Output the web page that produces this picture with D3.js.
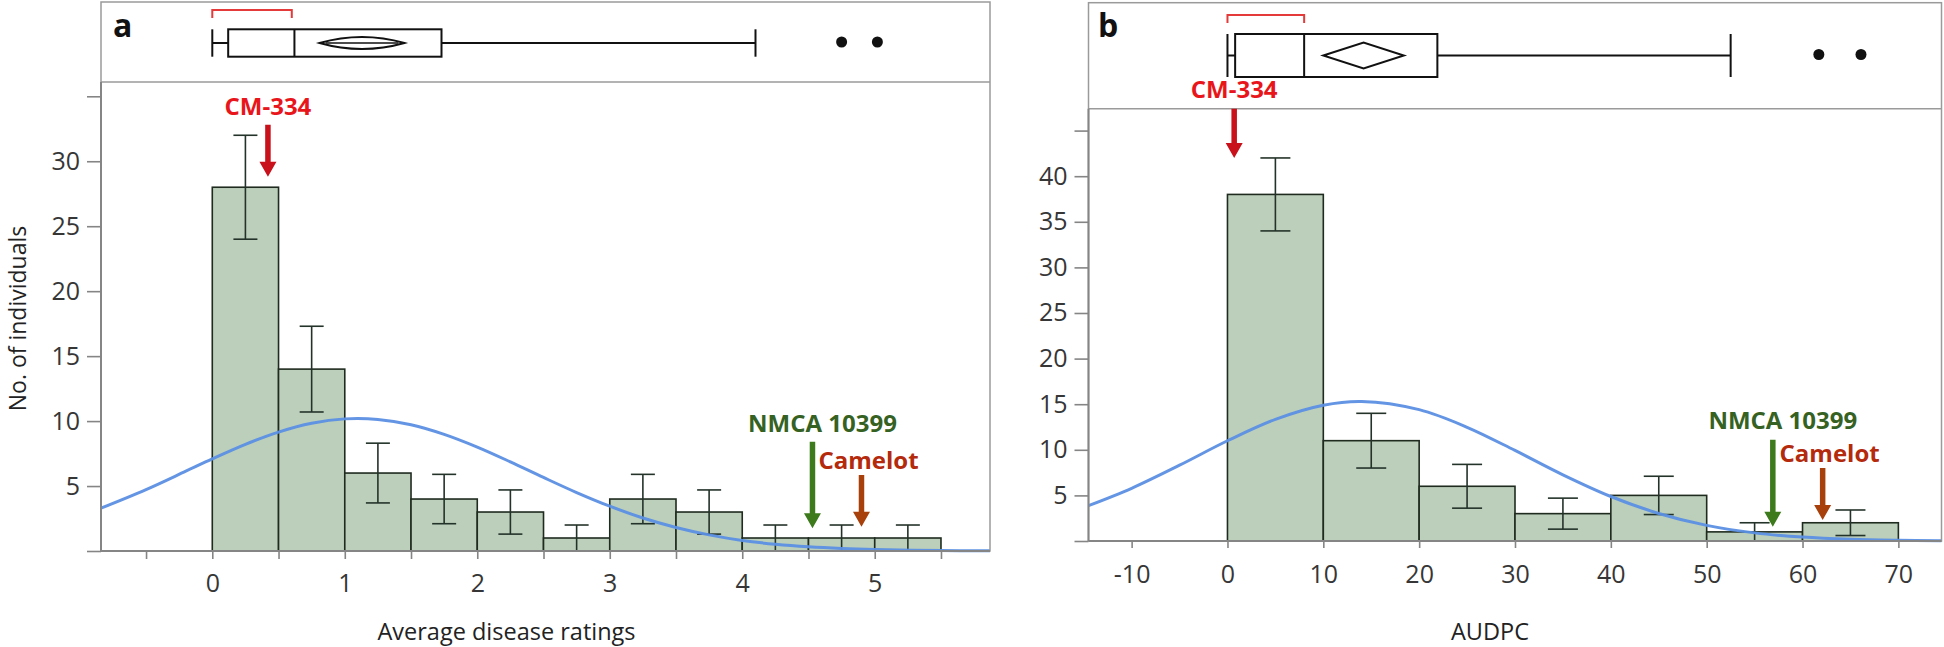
<!DOCTYPE html>
<html><head><meta charset="utf-8">
<script src="https://cdnjs.cloudflare.com/ajax/libs/d3/7.8.5/d3.min.js"></script>
<style>html,body{margin:0;padding:0;background:#fff;} svg{display:block;}</style>
</head><body><svg id="chart" width="1944" height="647"></svg>
<script>
// ================= DATA =================
// Panel a : Average disease ratings
const binEdgesA = [0, 0.5, 1, 1.5, 2, 2.5, 3, 3.5, 4, 4.5, 5, 5.5];
const countsA   = [28, 14, 6, 4, 3, 1, 4, 3, 1, 1, 1];
const errLowA   = [24.0, 10.7, 3.7, 2.1, 1.3, 0.0, 2.1, 1.3, 0.0, 0.0, 0.0];
const errHighA  = [32.0, 17.3, 8.3, 5.9, 4.7, 2.0, 5.9, 4.7, 2.0, 2.0, 2.0];
const curveXA   = [-0.84, -0.5, -0.2, 0, 0.25, 0.5, 0.75, 1.0, 1.25, 1.5, 1.75, 2.0, 2.25, 2.5, 2.75, 3.0, 3.25, 3.5, 3.75, 4.0, 4.25, 4.5, 4.75, 5.0, 5.5, 5.87];
const curveYA   = [3.3, 4.73, 6.14, 7.09, 8.21, 9.15, 9.83, 10.17, 10.13, 9.72, 8.98, 8.0, 6.86, 5.66, 4.5, 3.45, 2.54, 1.81, 1.24, 0.81, 0.52, 0.32, 0.19, 0.11, 0.03, 0.01];
const xDomainA  = [-0.84, 5.87];
const yDomainA  = [0, 36.1];
const xTicksA   = [-0.5, 0, 0.5, 1, 1.5, 2, 2.5, 3, 3.5, 4, 4.5, 5, 5.5];
const xTickLabelsA = [0, 1, 2, 3, 4, 5];
const yTicksA   = [0, 5, 10, 15, 20, 25, 30, 35];
const yTickLabelsA = [5, 10, 15, 20, 25, 30];
const boxStatsA = [0, 0.12, 0.62, 1.73, 4.10];   // whisker low, Q1, median, Q3, whisker high
const outliersA = [4.75, 5.02];
const meanDiamondA = [0.81, 1.13, 1.45];         // lower CI, mean, upper CI
const shortestHalfA = [0, 0.60];
const markerLabelsA = ["CM-334", "NMCA 10399", "Camelot"];
const markerXA   = [0.42, 4.53, 4.90];
const markerTipA = [28.8, 1.75, 1.87];
const markerTopA = [32.8, 8.4, 5.85];
const xTitleA = "Average disease ratings";
const yTitleA = "No. of individuals";
const panelLabelA = "a";

// Panel b : AUDPC
const binEdgesB = [0, 10, 20, 30, 40, 50, 60, 70];
const countsB   = [38, 11, 6, 3, 5, 1, 2];
const errLowB   = [34.0, 8.0, 3.6, 1.3, 2.9, 0.0, 0.6];
const errHighB  = [42.0, 14.0, 8.4, 4.7, 7.1, 2.0, 3.4];
const curveXB   = [-14.5, -10, -5, 0, 5, 10, 14, 20, 25, 30, 35, 40, 45, 50, 55, 60, 65, 70, 74.5];
const curveYB   = [3.88, 5.78, 8.31, 10.99, 13.34, 14.89, 15.3, 14.4, 12.47, 9.93, 7.26, 4.88, 3.02, 1.71, 0.89, 0.43, 0.19, 0.08, 0.03];
const xDomainB  = [-14.5, 74.5];
const yDomainB  = [0, 47.4];
const xTicksB   = [-10, 0, 10, 20, 30, 40, 50, 60, 70];
const xTickLabelsB = [-10, 0, 10, 20, 30, 40, 50, 60, 70];
const yTicksB   = [0, 5, 10, 15, 20, 25, 30, 35, 40, 45];
const yTickLabelsB = [5, 10, 15, 20, 25, 30, 35, 40];
const boxStatsB = [0, 0.8, 8.0, 21.9, 52.5];
const outliersB = [61.7, 66.1];
const meanDiamondB = [10.0, 14.2, 18.4];
const shortestHalfB = [0, 8.0];
const markerLabelsB = ["CM-334", "NMCA 10399", "Camelot"];
const markerXB   = [0.7, 56.9, 62.1];
const markerTipB = [42.0, 1.57, 2.3];
const markerTopB = [47.4, 11.1, 8.0];
const xTitleB = "AUDPC";
const yTitleB = "";
const panelLabelB = "b";

// ================= STYLE / LAYOUT =================
const FONT = "'Open Sans', 'Noto Sans', sans-serif";
const markerStyle = {
  "CM-334":     {text: "#e8161b", arrow: "#c8111a", dx: 0,  dy: -19},
  "NMCA 10399": {text: "#356222", arrow: "#3c7a1c", dx: 10, dy: -19},
  "Camelot":    {text: "#b42a0c", arrow: "#a8400c", dx: 7,  dy: -15}
};
const layoutA = {x0: 101, x1: 990, top: 2, sep: 82, bottom: 551,
  boxTop: 29.3, boxBot: 56.7, boxMid: 43, bracketY: 10, bracketDrop: 8, diamondHalf: 6, lens: true,
  capW: 24, xLabelPad: 15, xTickLen: 8, labelX: 113, labelY: 37};
const layoutB = {x0: 1088.5, x1: 1941.5, top: 2.7, sep: 108.7, bottom: 541,
  boxTop: 34, boxBot: 77, boxMid: 55.5, bracketY: 15, bracketDrop: 8, diamondHalf: 13, lens: false,
  capW: 30, xLabelPad: 17, xTickLen: 7, labelX: 1098, labelY: 37};

const svg = d3.select("#chart");

function drawPanel(L, d) {
  const g = svg.append("g");
  const x = d3.scaleLinear().domain(d.xDomain).range([L.x0, L.x1]);
  const y = d3.scaleLinear().domain(d.yDomain).range([L.bottom, L.sep]);

  // bars
  const bins = d.counts.map((c, i) => ({x0: d.edges[i], x1: d.edges[i + 1], c, lo: d.errLow[i], hi: d.errHigh[i]}));
  g.selectAll("rect.bar").data(bins).join("rect").attr("class", "bar")
    .attr("x", b => x(b.x0)).attr("width", b => x(b.x1) - x(b.x0))
    .attr("y", b => y(b.c)).attr("height", b => y(0) - y(b.c))
    .attr("fill", "#bccfbb").attr("stroke", "#1f2b1f").attr("stroke-width", 1.6);

  // error bars
  const eb = g.selectAll("g.err").data(bins).join("g").attr("class", "err")
    .attr("stroke", "#24332a").attr("stroke-width", 1.6);
  eb.append("line").attr("x1", b => x((b.x0 + b.x1) / 2)).attr("x2", b => x((b.x0 + b.x1) / 2))
    .attr("y1", b => y(b.lo)).attr("y2", b => y(b.hi));
  eb.append("line").attr("x1", b => x((b.x0 + b.x1) / 2) - L.capW / 2).attr("x2", b => x((b.x0 + b.x1) / 2) + L.capW / 2)
    .attr("y1", b => y(b.hi)).attr("y2", b => y(b.hi));
  eb.append("line").attr("x1", b => x((b.x0 + b.x1) / 2) - L.capW / 2).attr("x2", b => x((b.x0 + b.x1) / 2) + L.capW / 2)
    .attr("y1", b => y(b.lo)).attr("y2", b => y(b.lo));

  // normal curve
  const pts = d.curveX.map((v, i) => [v, d.curveY[i]]);
  g.append("path").datum(pts)
    .attr("d", d3.line().x(p => x(p[0])).y(p => y(p[1])).curve(d3.curveCatmullRom.alpha(0.5)))
    .attr("fill", "none").attr("stroke", "#5b8fe3").attr("stroke-width", 3).attr("stroke-opacity", 0.95);

  // frame
  g.append("rect").attr("x", L.x0).attr("y", L.top).attr("width", L.x1 - L.x0).attr("height", L.bottom - L.top)
    .attr("fill", "none").attr("stroke", "#9a9a9a").attr("stroke-width", 1.5);
  g.append("line").attr("x1", L.x0).attr("x2", L.x1).attr("y1", L.sep).attr("y2", L.sep)
    .attr("stroke", "#9a9a9a").attr("stroke-width", 1.5);
  g.append("line").attr("x1", L.x0).attr("x2", L.x0).attr("y1", L.sep).attr("y2", L.bottom)
    .attr("stroke", "#858585").attr("stroke-width", 2);
  g.append("line").attr("x1", L.x0).attr("x2", L.x1).attr("y1", L.bottom).attr("y2", L.bottom)
    .attr("stroke", "#858585").attr("stroke-width", 2);

  // axes
  const yAxis = d3.axisLeft(y).tickValues(d.yTicks).tickSize(14).tickPadding(7)
    .tickFormat(v => d.yTickLabels.includes(v) ? String(v) : "");
  const ya = g.append("g").attr("transform", `translate(${L.x0},0)`).call(yAxis);
  const xAxis = d3.axisBottom(x).tickValues(d.xTicks).tickSize(L.xTickLen).tickPadding(L.xLabelPad)
    .tickFormat(v => d.xTickLabels.includes(v) ? String(v) : "");
  const xa = g.append("g").attr("transform", `translate(0,${L.bottom})`).call(xAxis);
  [ya, xa].forEach(a => {
    a.select(".domain").remove();
    a.selectAll(".tick line").attr("stroke", "#858585").attr("stroke-width", 1.6);
    a.selectAll(".tick text").attr("font-family", FONT).attr("font-size", 25).attr("fill", "#363636");
  });

  // axis titles
  g.append("text").attr("x", (L.x0 + L.x1) / 2 + (d.xTitleDx || 0)).attr("y", 640)
    .attr("text-anchor", "middle").attr("font-family", FONT).attr("font-size", 23.5).attr("fill", "#222")
    .text(d.xTitle);
  if (d.yTitle) {
    g.append("text").attr("transform", `translate(26,${(L.sep + L.bottom) / 2 + 2}) rotate(-90)`)
      .attr("text-anchor", "middle").attr("font-family", FONT).attr("font-size", 23).attr("fill", "#222")
      .text(d.yTitle);
  }

  // panel label
  g.append("text").attr("x", L.labelX).attr("y", L.labelY).attr("font-family", FONT)
    .attr("font-weight", 700).attr("font-size", 32).attr("fill", "#111").text(d.panelLabel);

  // box plot
  const bs = d.box;
  const bp = g.append("g").attr("stroke", "#111").attr("stroke-width", 2).attr("fill", "none");
  bp.append("line").attr("x1", x(bs[0])).attr("x2", x(bs[1])).attr("y1", L.boxMid).attr("y2", L.boxMid);
  bp.append("line").attr("x1", x(bs[3])).attr("x2", x(bs[4])).attr("y1", L.boxMid).attr("y2", L.boxMid);
  bp.append("line").attr("x1", x(bs[0])).attr("x2", x(bs[0])).attr("y1", L.boxTop).attr("y2", L.boxBot);
  bp.append("line").attr("x1", x(bs[4])).attr("x2", x(bs[4])).attr("y1", L.boxTop).attr("y2", L.boxBot);
  bp.append("rect").attr("x", x(bs[1])).attr("y", L.boxTop).attr("width", x(bs[3]) - x(bs[1])).attr("height", L.boxBot - L.boxTop);
  bp.append("line").attr("x1", x(bs[2])).attr("x2", x(bs[2])).attr("y1", L.boxTop).attr("y2", L.boxBot);
  const md = d.diamond, h = L.diamondHalf, cy = L.boxMid;
  if (L.lens) {
    bp.append("path").attr("d",
      `M${x(md[0])},${cy} Q${x(md[1])},${cy - 2 * h} ${x(md[2])},${cy} Q${x(md[1])},${cy + 2 * h} ${x(md[0])},${cy} Z`);
    bp.append("line").attr("x1", x(md[0]) + 6).attr("x2", x(md[2]) - 6).attr("y1", cy).attr("y2", cy).attr("stroke-width", 1.5);
  } else {
    bp.append("path").attr("d",
      `M${x(md[0])},${cy} L${x(md[1])},${cy - h} L${x(md[2])},${cy} L${x(md[1])},${cy + h} Z`);
  }
  g.selectAll("circle.out").data(d.outliers).join("circle").attr("class", "out")
    .attr("cx", v => x(v)).attr("cy", L.boxMid - 1).attr("r", 5.5).attr("fill", "#111");
  const sh = d.shortest;
  g.append("path").attr("d",
    `M${x(sh[0])},${L.bracketY + L.bracketDrop} L${x(sh[0])},${L.bracketY} L${x(sh[1])},${L.bracketY} L${x(sh[1])},${L.bracketY + L.bracketDrop}`)
    .attr("fill", "none").attr("stroke", "#e53a3a").attr("stroke-width", 2);

  // marker arrows
  d.markerLabels.forEach((lab, i) => {
    const st = markerStyle[lab];
    const mx = x(d.markerX[i]), yTip = y(d.markerTip[i]), yTop = y(d.markerTop[i]);
    const sw = 5.5, hw = 17, hl = 15;
    g.append("path").attr("d",
      `M${mx - sw / 2},${yTop} L${mx + sw / 2},${yTop} L${mx + sw / 2},${yTip - hl} L${mx + hw / 2},${yTip - hl} L${mx},${yTip} L${mx - hw / 2},${yTip - hl} L${mx - sw / 2},${yTip - hl} Z`)
      .attr("fill", st.arrow);
    g.append("text").attr("x", mx + st.dx).attr("y", yTop + st.dy).attr("dy", "0.36em")
      .attr("text-anchor", "middle").attr("font-family", FONT).attr("font-weight", 700)
      .attr("font-size", 24).attr("fill", st.text).text(lab);
  });
}

drawPanel(layoutA, {
  edges: binEdgesA, counts: countsA, errLow: errLowA, errHigh: errHighA,
  curveX: curveXA, curveY: curveYA, xDomain: xDomainA, yDomain: yDomainA,
  xTicks: xTicksA, xTickLabels: xTickLabelsA, yTicks: yTicksA, yTickLabels: yTickLabelsA,
  box: boxStatsA, outliers: outliersA, diamond: meanDiamondA, shortest: shortestHalfA,
  markerLabels: markerLabelsA, markerX: markerXA, markerTip: markerTipA, markerTop: markerTopA,
  xTitle: xTitleA, yTitle: yTitleA, panelLabel: panelLabelA, xTitleDx: -39
});
drawPanel(layoutB, {
  edges: binEdgesB, counts: countsB, errLow: errLowB, errHigh: errHighB,
  curveX: curveXB, curveY: curveYB, xDomain: xDomainB, yDomain: yDomainB,
  xTicks: xTicksB, xTickLabels: xTickLabelsB, yTicks: yTicksB, yTickLabels: yTickLabelsB,
  box: boxStatsB, outliers: outliersB, diamond: meanDiamondB, shortest: shortestHalfB,
  markerLabels: markerLabelsB, markerX: markerXB, markerTip: markerTipB, markerTop: markerTopB,
  xTitle: xTitleB, yTitle: yTitleB, panelLabel: panelLabelB, xTitleDx: -25
});
</script></body></html>
